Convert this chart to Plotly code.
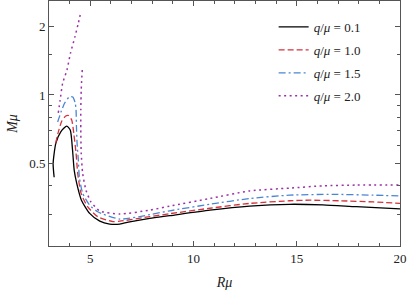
import plotly.graph_objects as go
import math

# q/mu = 0.1 (solid black)
x_q01 = [3.25, 3.20, 3.33, 3.57, 3.86, 4.03, 4.14, 4.22, 4.34, 4.57, 4.97, 5.46, 5.94, 6.43, 6.91, 7.88, 8.85, 10.79, 12.72, 14.66, 16.27, 17.88, 20.0]
y_q01 = [0.436, 0.50, 0.614, 0.690, 0.731, 0.702, 0.574, 0.469, 0.411, 0.346, 0.303, 0.280, 0.272, 0.272, 0.278, 0.288, 0.296, 0.313, 0.326, 0.332, 0.330, 0.324, 0.317]

# q/mu = 1.0 (dashed red)
x_q10 = [3.32, 3.45, 3.62, 3.81, 3.95, 4.10, 4.20, 4.31, 4.39, 4.55, 4.87, 5.36, 6.10, 6.43, 7.88, 8.85, 10.79, 12.72, 14.66, 15.63, 17.08, 18.7, 20.0]
y_q10 = [0.614, 0.688, 0.769, 0.809, 0.813, 0.777, 0.679, 0.557, 0.455, 0.372, 0.324, 0.293, 0.279, 0.280, 0.293, 0.302, 0.319, 0.335, 0.344, 0.346, 0.344, 0.340, 0.335]

# q/mu = 1.5 (dash-dot blue)
x_q15 = [3.42, 3.58, 3.76, 3.99, 4.15, 4.27, 4.31, 4.33, 4.36, 4.42, 4.47, 4.63, 4.96, 5.36, 6.43, 7.88, 8.85, 10.79, 12.72, 14.66, 16.77, 18.7, 20.0]
y_q15 = [0.761, 0.842, 0.922, 0.983, 0.980, 0.922, 0.859, 0.726, 0.614, 0.519, 0.438, 0.371, 0.330, 0.308, 0.286, 0.299, 0.311, 0.332, 0.352, 0.364, 0.367, 0.364, 0.361]

# q/mu = 2.0 (dotted purple): two branches
x_q20_left = [3.45, 3.54, 3.66, 3.87, 4.04, 4.26, 4.42, 4.55]
y_q20_left = [0.834, 0.951, 1.125, 1.287, 1.523, 1.803, 2.063, 2.32]
x_q20_right = [4.61, 4.56, 4.54, 4.54, 4.56, 4.63, 4.79, 5.03, 5.32, 5.46, 6.43, 7.88, 8.85, 10.79, 12.72, 14.66, 16.27, 17.88, 20.0]
y_q20_right = [1.287, 1.052, 0.859, 0.702, 0.557, 0.454, 0.383, 0.340, 0.318, 0.310, 0.301, 0.313, 0.326, 0.352, 0.380, 0.391, 0.400, 0.403, 0.403]

labels = ["<i>q</i>/<i>μ</i> = 0.1", "<i>q</i>/<i>μ</i> = 1.0",
          "<i>q</i>/<i>μ</i> = 1.5", "<i>q</i>/<i>μ</i> = 2.0"]

x_ticks = [5, 10, 15, 20]
y_ticks = [0.5, 1, 2]
y_minor = [0.3, 0.4, 0.6, 0.7, 0.8, 0.9, 1.5]

FONT = "Liberation Serif, DejaVu Serif, serif"

fig = go.Figure()
fig.add_trace(go.Scatter(x=x_q01, y=y_q01, mode="lines", name=labels[0], legendgroup="a",
                         line=dict(color="black", width=1.3, shape="spline", smoothing=0.6)))
fig.add_trace(go.Scatter(x=x_q10, y=y_q10, mode="lines", name=labels[1], legendgroup="b",
                         line=dict(color="#d4323c", width=1.3, dash="6px,3px", shape="spline", smoothing=0.6)))
fig.add_trace(go.Scatter(x=x_q15, y=y_q15, mode="lines", name=labels[2], legendgroup="c",
                         line=dict(color="#4a86d0", width=1.3, dash="7px,3px,2px,3px", shape="spline", smoothing=0.6)))
fig.add_trace(go.Scatter(x=x_q20_left + [None] + x_q20_right, y=y_q20_left + [None] + y_q20_right,
                         mode="lines", name=labels[3], legendgroup="d", connectgaps=False,
                         line=dict(color="#9b30a8", width=1.5, dash="2px,3.5px", shape="spline", smoothing=0.6)))

axis_common = dict(showline=True, linecolor="#555555", linewidth=1, mirror="ticks",
                   ticks="inside", ticklen=5, tickcolor="#555555", tickwidth=1,
                   showgrid=False, zeroline=False,
                   tickfont=dict(family=FONT, size=13, color="#222222"))

fig.update_xaxes(range=[3, 20], tickvals=x_ticks,
                 minor=dict(dtick=1, tick0=0, ticks="inside", ticklen=3, tickcolor="#555555", showgrid=False),
                 title=dict(text="<i>Rμ</i>", font=dict(family=FONT, size=14, color="#222222"), standoff=12),
                 **axis_common)
fig.update_yaxes(type="log", range=[math.log10(0.218), math.log10(2.58)], tickvals=y_ticks,
                 ticktext=["0.5", "1", "2"],
                 minor=dict(tickvals=y_minor, ticks="inside", ticklen=3, tickcolor="#555555", showgrid=False),
                 title=dict(text="<i>Mμ</i>", font=dict(family=FONT, size=14, color="#222222"), standoff=8),
                 **axis_common)

fig.update_layout(width=407, height=296,
                  margin=dict(l=49, r=7, t=1, b=50),
                  paper_bgcolor="white", plot_bgcolor="white",
                  showlegend=True,
                  legend=dict(x=0.64, y=0.955, xanchor="left", yanchor="top",
                              bgcolor="rgba(0,0,0,0)", tracegroupgap=3,
                              font=dict(family=FONT, size=13, color="#222222")),
                  font=dict(family=FONT))

fig.write_html("out.html", config={"displayModeBar": False},
               post_script="document.body.style.margin='0';document.body.style.padding='0';")
